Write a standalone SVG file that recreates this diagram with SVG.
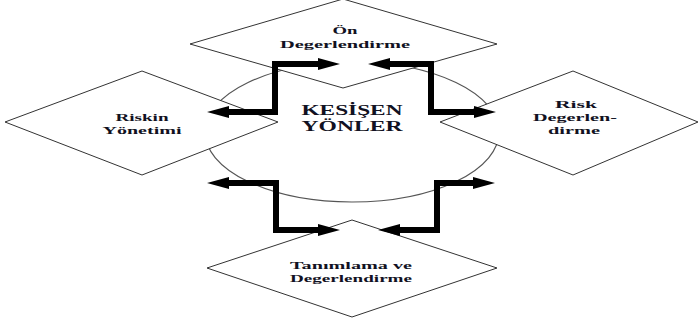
<svg xmlns="http://www.w3.org/2000/svg" width="699" height="323" viewBox="0 0 699 323">
<defs>
<style>
.node{fill:#fff;stroke:#333;stroke-width:1}
.ell{fill:#fff;stroke:#555;stroke-width:1.2}
.lbl{font-family:"Liberation Serif","Times New Roman",serif;font-weight:bold;font-size:11px;fill:#111122;text-anchor:middle}
.big{font-size:15px}
.conn{fill:none;stroke:#000;stroke-width:6;stroke-linejoin:miter;marker-start:url(#ah);marker-end:url(#ah)}
</style>
<marker id="ah" viewBox="0 0 22 12" refX="3" refY="6" markerWidth="22" markerHeight="12" markerUnits="userSpaceOnUse" orient="auto-start-reverse">
<path d="M0,0 L22,6 L0,12 z" fill="#000"/>
</marker>
</defs>
<rect width="699" height="323" fill="#fff"/>
<g id="center">
<ellipse class="ell" cx="352" cy="132" rx="147" ry="70"/>
<text class="lbl big" x="352" y="115" textLength="101" lengthAdjust="spacingAndGlyphs">KESİŞEN</text>
<text class="lbl big" x="352" y="131" textLength="101" lengthAdjust="spacingAndGlyphs">YÖNLER</text>
</g>
<g id="on-degerlendirme">
<polygon class="node" points="343,-1 497,44 343,88 190,44"/>
<text class="lbl" x="345" y="34" textLength="25" lengthAdjust="spacingAndGlyphs">Ön</text>
<text class="lbl" x="345" y="48" textLength="130" lengthAdjust="spacingAndGlyphs">Degerlendirme</text>
</g>
<g id="riskin-yonetimi">
<polygon class="node" points="142,71 278,122 142,175 5,122"/>
<text class="lbl" x="142" y="121" textLength="53" lengthAdjust="spacingAndGlyphs">Riskin</text>
<text class="lbl" x="142" y="134" textLength="79" lengthAdjust="spacingAndGlyphs">Yönetimi</text>
</g>
<g id="risk-degerlendirme">
<polygon class="node" points="573,71 698,122 573,175 440,122"/>
<text class="lbl" x="576" y="108" textLength="42" lengthAdjust="spacingAndGlyphs">Risk</text>
<text class="lbl" x="575" y="121" textLength="84" lengthAdjust="spacingAndGlyphs">Degerlen-</text>
<text class="lbl" x="574" y="134" textLength="52" lengthAdjust="spacingAndGlyphs">dirme</text>
</g>
<g id="tanimlama">
<polygon class="node" points="352,220 497,268 352,317 207,268"/>
<text class="lbl" x="351" y="269" textLength="122" lengthAdjust="spacingAndGlyphs">Tanımlama ve</text>
<text class="lbl" x="351" y="282" textLength="122" lengthAdjust="spacingAndGlyphs">Degerlendirme</text>
</g>
<g id="connectors">
<path class="conn" d="M226,112 H275 V64 H321"/>
<path class="conn" d="M387,64 H431 V112 H477"/>
<path class="conn" d="M226,183 H276 V230 H321"/>
<path class="conn" d="M397,230 H437 V183 H476"/>
</g>
</svg>
